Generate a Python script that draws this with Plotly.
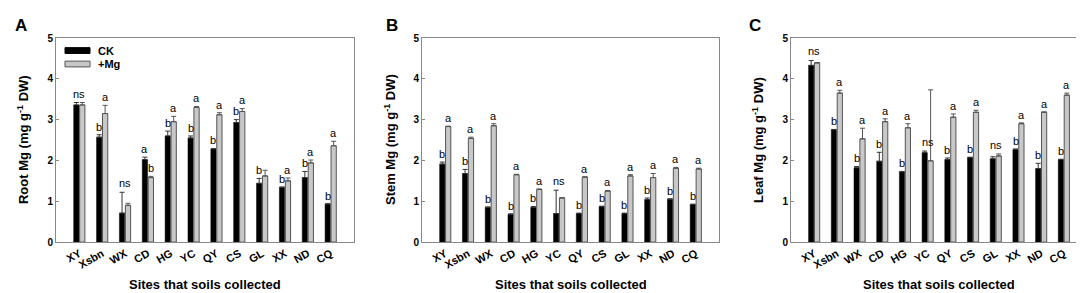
import plotly.graph_objects as go

sites = ["XY", "Xsbn", "WX", "CD", "HG", "YC", "QY", "CS", "GL", "XX", "ND", "CQ"]
y_ticks = [0, 1, 2, 3, 4, 5]

# Root
root_ck = [3.36, 2.57, 0.71, 2.02, 2.60, 2.55, 2.28, 2.93, 1.44, 1.34, 1.58, 0.93]
root_ck_err = [0.06, 0.06, 0.51, 0.06, 0.12, 0.05, 0.01, 0.07, 0.12, 0.01, 0.15, 0.01]
root_mg = [3.36, 3.15, 0.90, 1.58, 2.95, 3.30, 3.12, 3.20, 1.62, 1.50, 1.94, 2.36]
root_mg_err = [0.06, 0.20, 0.05, 0.03, 0.13, 0.02, 0.05, 0.07, 0.14, 0.07, 0.07, 0.11]
root_ck_let = ["", "b", "", "a", "b", "b", "b", "b", "b", "b", "b", "b"]
root_mg_let = ["", "a", "", "b", "a", "a", "a", "a", "", "a", "a", "a"]
root_ns = ["ns", "", "ns", "", "", "", "", "", "", "", "", ""]

# Stem
stem_ck = [1.91, 1.68, 0.85, 0.68, 0.85, 0.70, 0.70, 0.87, 0.70, 1.04, 1.05, 0.92]
stem_ck_err = [0.05, 0.10, 0.01, 0.01, 0.02, 0.57, 0.01, 0.01, 0.01, 0.04, 0.01, 0.01]
stem_mg = [2.83, 2.54, 2.85, 1.65, 1.29, 1.08, 1.59, 1.25, 1.62, 1.58, 1.81, 1.79]
stem_mg_err = [0.01, 0.03, 0.05, 0.01, 0.01, 0.01, 0.01, 0.01, 0.03, 0.10, 0.02, 0.02]
stem_ck_let = ["b", "b", "b", "b", "b", "", "b", "b", "b", "b", "b", "b"]
stem_mg_let = ["a", "a", "a", "a", "a", "", "a", "a", "a", "a", "a", "a"]
stem_ns = ["", "", "", "", "", "ns", "", "", "", "", "", ""]

# Leaf
leaf_ck = [4.33, 2.75, 1.82, 1.98, 1.72, 2.19, 2.02, 2.07, 2.04, 2.27, 1.80, 2.02]
leaf_ck_err = [0.12, 0.01, 0.03, 0.22, 0.01, 0.04, 0.04, 0.01, 0.05, 0.01, 0.13, 0.01]
leaf_mg = [4.39, 3.65, 2.53, 2.95, 2.80, 1.99, 3.06, 3.18, 2.11, 2.90, 3.18, 3.60]
leaf_mg_err = [0.01, 0.07, 0.26, 0.07, 0.10, 1.74, 0.08, 0.05, 0.05, 0.02, 0.01, 0.05]
leaf_ck_let = ["", "b", "b", "b", "b", "", "b", "b", "", "b", "b", "b"]
leaf_mg_let = ["", "a", "a", "a", "a", "", "a", "a", "", "a", "a", "a"]
leaf_ns = ["ns", "", "", "", "", "ns", "", "", "ns", "", "", ""]

panels = [
    ("A", "Root Mg (mg g<sup>-1</sup> DW)", root_ck, root_ck_err, root_mg, root_mg_err, root_ck_let, root_mg_let, root_ns),
    ("B", "Stem Mg (mg g<sup>-1</sup> DW)", stem_ck, stem_ck_err, stem_mg, stem_mg_err, stem_ck_let, stem_mg_let, stem_ns),
    ("C", "Leaf Mg (mg g<sup>-1</sup> DW)", leaf_ck, leaf_ck_err, leaf_mg, leaf_mg_err, leaf_ck_let, leaf_mg_let, leaf_ns),
]

W, H = 1084, 293
x_px = [(48, 346), (414, 711), (783, 1079)]
ytitle_px = [15, 382, 750]
letter_px = [13, 384, 747]
y_top, y_bot = 26, 238
ydom = [(H - y_bot) / H, (H - y_top) / H]

fig = go.Figure()
idx = list(range(len(sites)))
BW = 0.23
OFF = 0.13

annotations = []
shapes = []
LETFONT = dict(family="Arial", size=11, color="black")
for p, (lab, ytitle, ck, ck_e, mg, mg_e, ckl, mgl, nsl) in enumerate(panels):
    xa = "x" if p == 0 else f"x{p+1}"
    ya = "y" if p == 0 else f"y{p+1}"
    fig.add_trace(go.Bar(
        x=idx, y=ck, width=BW, offset=-OFF - BW / 2, name="CK",
        marker=dict(color="black", line=dict(color="black", width=0.5)),
        error_y=dict(type="data", array=ck_e, arrayminus=[0] * len(ck), color="#333", thickness=1, width=2.5),
        xaxis=xa, yaxis=ya, showlegend=False))
    fig.add_trace(go.Bar(
        x=idx, y=mg, width=BW, offset=OFF - BW / 2, name="+Mg",
        marker=dict(color="#c8c8c8", line=dict(color="#555", width=1)),
        error_y=dict(type="data", array=mg_e, arrayminus=[0] * len(mg), color="#555", thickness=1, width=2.5),
        xaxis=xa, yaxis=ya, showlegend=False))
    # significance letters
    for i in idx:
        if ckl[i]:
            annotations.append(dict(text=ckl[i], x=i - OFF, y=ck[i] + ck_e[i] + 0.2, xref=xa, yref=ya,
                                    showarrow=False, font=LETFONT))
        if mgl[i]:
            annotations.append(dict(text=mgl[i], x=i + OFF, y=mg[i] + mg_e[i] + 0.2, xref=xa, yref=ya,
                                    showarrow=False, font=LETFONT))
        if nsl[i]:
            top = ck[i] + ck_e[i] if mg_e[i] > 1 else max(ck[i] + ck_e[i], mg[i] + mg_e[i])
            annotations.append(dict(text=nsl[i], x=i, y=top + 0.22, xref=xa, yref=ya,
                                    showarrow=False, font=LETFONT))

    xd = [x_px[p][0] / W, x_px[p][1] / W]
    axx = dict(domain=xd, range=[-1.02, 12.02], tickmode="array", tickvals=idx, ticktext=sites,
               tickangle=-30, showline=True, mirror=True, linecolor="#888", linewidth=1,
               ticks="", showgrid=False, zeroline=False, anchor=ya,
               tickfont=dict(family="Arial", size=11, color="black", weight="bold"))
    axy = dict(domain=ydom, range=[0, 5], tickvals=y_ticks, ticks="inside", ticklen=3, tickcolor="#888",
               showline=True, mirror=True, linecolor="#888", linewidth=1, showgrid=False, zeroline=False,
               anchor=xa, tickfont=dict(family="Arial", size=10, color="black", weight="bold"))
    fig.layout[("xaxis" if p == 0 else f"xaxis{p+1}")] = axx
    fig.layout[("yaxis" if p == 0 else f"yaxis{p+1}")] = axy

    annotations.append(dict(text=ytitle, x=ytitle_px[p] / W, y=(H - 132) / H, xref="paper", yref="paper",
                            textangle=-90, showarrow=False, xanchor="center", yanchor="middle",
                            font=dict(family="Arial", size=13, color="black", weight="bold")))
    annotations.append(dict(text="Sites that soils collected", x=(x_px[p][0] + x_px[p][1]) / 2 / W,
                            y=(H - 282) / H, xref="paper", yref="paper", showarrow=False,
                            xanchor="center", yanchor="middle",
                            font=dict(family="Arial", size=13, color="black", weight="bold")))
    annotations.append(dict(text=lab, x=letter_px[p] / W, y=(H - 13) / H, xref="paper", yref="paper",
                            showarrow=False, xanchor="center", yanchor="middle",
                            font=dict(family="Arial", size=17, color="black", weight="bold")))

# legend (panel A)
legend_items = [("CK", "black", "black"), ("+Mg", "#c8c8c8", "#555")]
for k, (name, fc, lc) in enumerate(legend_items):
    yc = 39 + 14 * k
    shapes.append(dict(type="rect", xref="paper", yref="paper",
                       x0=57 / W, x1=82 / W, y0=(H - yc - 3) / H, y1=(H - yc + 3) / H,
                       fillcolor=fc, line=dict(color=lc, width=1)))
    annotations.append(dict(text=name, x=88 / W, y=(H - yc) / H, xref="paper", yref="paper",
                            showarrow=False, xanchor="left", yanchor="middle",
                            font=dict(family="Arial", size=11, color="black", weight="bold")))

fig.update_layout(
    width=W, height=H, margin=dict(l=0, r=0, t=0, b=0),
    paper_bgcolor="white", plot_bgcolor="white",
    barmode="overlay", annotations=annotations, shapes=shapes, showlegend=False,
)
fig.write_html("out.html")
